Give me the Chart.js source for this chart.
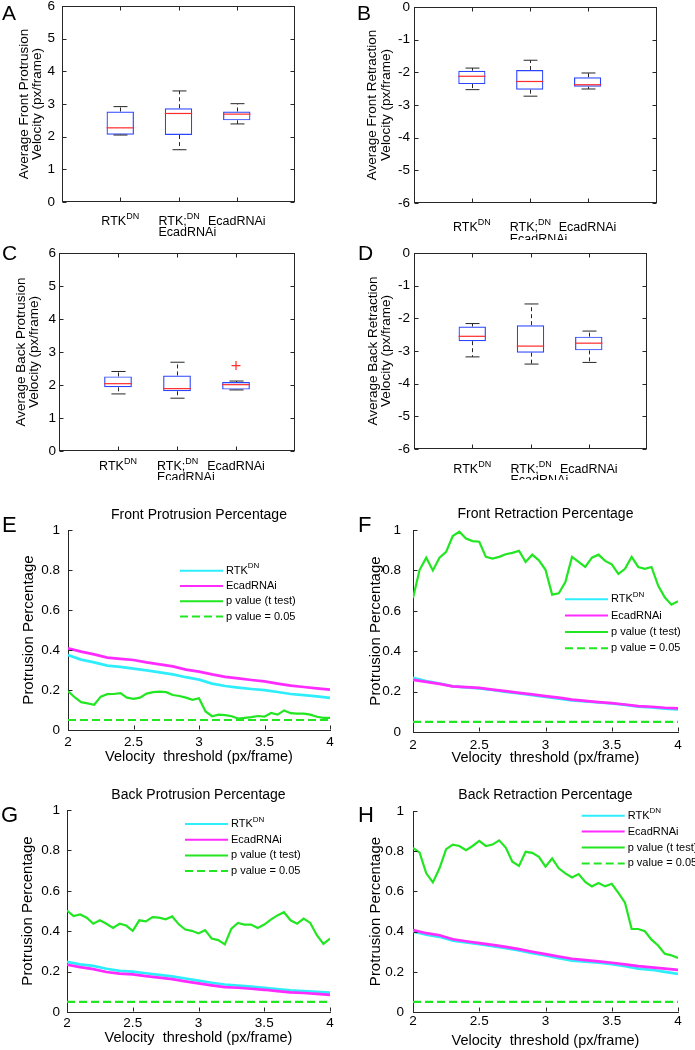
<!DOCTYPE html>
<html lang="en">
<head>
    <meta charset="UTF-8">
    <title>Protrusion and retraction velocity</title>
    <script src="https://cdn.jsdelivr.net/npm/chart.js"></script>
    <style>
        body { margin: 0; background: #fff; }
        .fig { position: relative; width: 695px; height: 1050px; overflow: hidden; }
        .fig canvas { position: absolute; }
    </style>
</head>
<body>
<div class="fig">
    <canvas id="cA" width="345" height="240" style="left:0px;top:0px"></canvas>
    <canvas id="cB" width="350" height="240" style="left:345px;top:0px"></canvas>
    <canvas id="cC" width="345" height="240" style="left:0px;top:240px"></canvas>
    <canvas id="cD" width="350" height="240" style="left:345px;top:240px"></canvas>
    <canvas id="cE" width="345" height="275" style="left:0px;top:500px"></canvas>
    <canvas id="cF" width="350" height="275" style="left:345px;top:500px"></canvas>
    <canvas id="cG" width="345" height="275" style="left:0px;top:775px"></canvas>
    <canvas id="cH" width="350" height="275" style="left:345px;top:775px"></canvas>
</div>
<script>
    // ---- box plots (A-D) ----
    const groupLabels = ["RTK^DN", "RTK;^DN\nEcadRNAi", "EcadRNAi"];
    const groupPos = [1, 2, 3];

    // A: average front protrusion velocity
    const aLow = [2.05, 1.60, 2.39];
    const aQ1 = [2.06, 2.05, 2.50];
    const aMed = [2.27, 2.71, 2.69];
    const aQ3 = [2.77, 2.87, 2.77];
    const aHigh = [2.92, 3.40, 3.01];

    // B: average front retraction velocity
    const bLow = [-2.53, -2.73, -2.51];
    const bQ1 = [-2.36, -2.53, -2.44];
    const bMed = [-2.12, -2.28, -2.38];
    const bQ3 = [-1.95, -1.93, -2.15];
    const bHigh = [-1.87, -1.63, -2.02];

    // C: average back protrusion velocity
    const cLow = [1.73, 1.60, 1.85];
    const cQ1 = [1.93, 1.81, 1.86];
    const cMed = [2.04, 1.89, 2.01];
    const cQ3 = [2.26, 2.29, 2.09];
    const cHigh = [2.41, 2.69, 2.12];
    const cOutX = [3];
    const cOutY = [2.59];

    // D: average back retraction velocity
    const dLow = [-3.18, -3.40, -3.35];
    const dQ1 = [-2.70, -3.05, -2.98];
    const dMed = [-2.55, -2.85, -2.76];
    const dQ3 = [-2.25, -2.21, -2.56];
    const dHigh = [-2.16, -1.56, -2.39];

    // ---- percentage curves (E-H) ----
    const thrCoarse = [2.0, 2.1, 2.2, 2.3, 2.4, 2.5, 2.6, 2.7, 2.8, 2.9, 3.0, 3.1, 3.2, 3.3, 3.4, 3.5, 3.6, 3.7, 3.8, 3.9, 4.0];
    const thrFine = [2.00, 2.05, 2.10, 2.15, 2.20, 2.25, 2.30, 2.35, 2.40, 2.45, 2.50, 2.55, 2.60, 2.65, 2.70, 2.75, 2.80, 2.85, 2.90, 2.95,
                     3.00, 3.05, 3.10, 3.15, 3.20, 3.25, 3.30, 3.35, 3.40, 3.45, 3.50, 3.55, 3.60, 3.65, 3.70, 3.75, 3.80, 3.85, 3.90, 3.95, 4.00];
    const pCutX = [2, 4];
    const pCutY = [0.05, 0.05];

    const eRtk = [0.375, 0.352, 0.338, 0.322, 0.316, 0.307, 0.298, 0.288, 0.278, 0.264, 0.252, 0.232, 0.220, 0.212, 0.205, 0.199, 0.190, 0.180, 0.174, 0.168, 0.161];
    const eEcad = [0.408, 0.392, 0.378, 0.362, 0.356, 0.350, 0.338, 0.328, 0.318, 0.302, 0.292, 0.278, 0.266, 0.258, 0.250, 0.243, 0.232, 0.222, 0.215, 0.208, 0.202];
    const eP = [0.195, 0.164, 0.139, 0.133, 0.126, 0.167, 0.179, 0.180, 0.184, 0.162, 0.156, 0.162, 0.182, 0.189, 0.192, 0.189, 0.175, 0.170, 0.162, 0.151,
                0.159, 0.093, 0.069, 0.077, 0.074, 0.069, 0.057, 0.061, 0.064, 0.070, 0.067, 0.085, 0.077, 0.098, 0.084, 0.082, 0.082, 0.077, 0.066, 0.061, 0.061];

    const fRtk = [0.268, 0.252, 0.240, 0.226, 0.221, 0.216, 0.208, 0.199, 0.191, 0.182, 0.174, 0.165, 0.157, 0.151, 0.146, 0.141, 0.134, 0.126, 0.122, 0.116, 0.112];
    const fEcad = [0.258, 0.248, 0.238, 0.226, 0.222, 0.218, 0.210, 0.202, 0.194, 0.186, 0.178, 0.170, 0.160, 0.154, 0.148, 0.143, 0.136, 0.128, 0.125, 0.120, 0.117];
    const fP = [0.663, 0.803, 0.863, 0.800, 0.863, 0.892, 0.970, 0.992, 0.958, 0.945, 0.942, 0.867, 0.858, 0.867, 0.880, 0.887, 0.897, 0.842, 0.878, 0.850,
                0.803, 0.680, 0.687, 0.742, 0.867, 0.842, 0.817, 0.863, 0.878, 0.847, 0.830, 0.783, 0.808, 0.867, 0.817, 0.808, 0.817, 0.725, 0.667, 0.630, 0.647];

    const gRtk = [0.248, 0.236, 0.228, 0.214, 0.204, 0.200, 0.192, 0.184, 0.176, 0.166, 0.155, 0.145, 0.136, 0.131, 0.126, 0.120, 0.114, 0.107, 0.104, 0.100, 0.096];
    const gEcad = [0.234, 0.222, 0.212, 0.198, 0.190, 0.186, 0.178, 0.170, 0.163, 0.152, 0.142, 0.132, 0.123, 0.120, 0.115, 0.110, 0.103, 0.097, 0.094, 0.090, 0.085];
    const gP = [0.502, 0.475, 0.483, 0.467, 0.437, 0.454, 0.437, 0.416, 0.437, 0.428, 0.402, 0.454, 0.449, 0.470, 0.467, 0.459, 0.473, 0.434, 0.408, 0.402,
                0.389, 0.405, 0.364, 0.356, 0.335, 0.413, 0.441, 0.433, 0.433, 0.416, 0.433, 0.457, 0.478, 0.494, 0.454, 0.437, 0.462, 0.441, 0.380, 0.337, 0.364];

    const hRtk = [0.400, 0.385, 0.374, 0.355, 0.346, 0.338, 0.328, 0.318, 0.306, 0.293, 0.281, 0.268, 0.256, 0.250, 0.245, 0.238, 0.228, 0.216, 0.210, 0.200, 0.190];
    const hEcad = [0.408, 0.392, 0.382, 0.362, 0.352, 0.343, 0.334, 0.324, 0.313, 0.300, 0.288, 0.276, 0.265, 0.258, 0.252, 0.245, 0.237, 0.228, 0.222, 0.216, 0.210];
    const hP = [0.816, 0.793, 0.690, 0.645, 0.715, 0.810, 0.833, 0.826, 0.805, 0.826, 0.851, 0.826, 0.833, 0.854, 0.818, 0.748, 0.727, 0.797, 0.792, 0.772,
                0.723, 0.764, 0.715, 0.690, 0.669, 0.686, 0.647, 0.625, 0.642, 0.625, 0.638, 0.593, 0.544, 0.413, 0.413, 0.402, 0.360, 0.331, 0.290, 0.282, 0.269];

    const FONT = '"Liberation Sans", Arial, Helvetica, sans-serif';
    const AXIS = "#262626";
    const BLUE = "#2b45ff";
    const RED = "#ff2a2a";
    const CYAN = "#2eeefc";
    const MAGENTA = "#ff2bff";
    const GREEN = "#22e622";
    const TICK = 13.5;

    Chart.defaults.font.family = FONT;
    Chart.defaults.color = "#000";

    // matlab style tick text: 2, 2.5, 3 ... and 0, 0.2 ... 1
    const plainTick = v => String(Number(v.toFixed(2)));

    // text with an optional ^superscript part
    function drawRich(ctx, text, x, y, size, supSize, align) {
        const parts = text.split("^");
        const base = parts[0], sup = parts[1] || "";
        ctx.font = size + "px " + FONT;
        const wb = ctx.measureText(base).width;
        ctx.font = supSize + "px " + FONT;
        const ws = sup ? ctx.measureText(sup).width : 0;
        const x0 = align === "center" ? x - (wb + ws) / 2 : x;
        ctx.textAlign = "left";
        ctx.textBaseline = "middle";
        ctx.font = size + "px " + FONT;
        ctx.fillText(base, x0, y);
        if (sup) {
            ctx.font = supSize + "px " + FONT;
            ctx.fillText(sup, x0 + wb, y - size * 0.42);
        }
    }

    // whiskers, caps and medians for the box plots
    const whiskers = {
        id: "whiskers",
        afterDatasetsDraw(chart) {
            const ds = chart.data.datasets[0];
            if (!ds.med) return;
            const ctx = chart.ctx, xs = chart.scales.x, ys = chart.scales.y;
            const capHalf = xs.getPixelForValue(0.12) - xs.getPixelForValue(0);
            ctx.save();
            chart.getDatasetMeta(0).data.forEach((bar, i) => {
                const x = Math.round(bar.x) + 0.5;
                const yLo = ys.getPixelForValue(ds.lo[i]), yHi = ys.getPixelForValue(ds.hi[i]);
                const yQ1 = ys.getPixelForValue(ds.data[i].y[0]), yQ3 = ys.getPixelForValue(ds.data[i].y[1]);
                const yMed = ys.getPixelForValue(ds.med[i]);
                ctx.strokeStyle = AXIS;
                ctx.lineWidth = 1;
                ctx.setLineDash([4, 3]);
                ctx.beginPath();
                ctx.moveTo(x, yQ3); ctx.lineTo(x, yHi);
                ctx.moveTo(x, yQ1); ctx.lineTo(x, yLo);
                ctx.stroke();
                ctx.setLineDash([]);
                ctx.beginPath();
                ctx.moveTo(x - capHalf, yHi); ctx.lineTo(x + capHalf, yHi);
                ctx.moveTo(x - capHalf, yLo); ctx.lineTo(x + capHalf, yLo);
                ctx.stroke();
                ctx.strokeStyle = RED;
                ctx.lineWidth = 1.2;
                ctx.beginPath();
                ctx.moveTo(bar.x - bar.width / 2, yMed); ctx.lineTo(bar.x + bar.width / 2, yMed);
                ctx.stroke();
            });
            ctx.restore();
        }
    };

    // frame, inward ticks, panel letter, category labels and in-plot legend
    const decor = {
        id: "decor",
        afterDraw(chart, args, o) {
            const ctx = chart.ctx, a = chart.chartArea;
            const xs = chart.scales.x, ys = chart.scales.y;
            const L = Math.round(a.left) + 0.5, R = Math.round(a.right) - 0.5;
            const T = Math.round(a.top) + 0.5, B = Math.round(a.bottom) - 0.5;
            ctx.save();
            ctx.strokeStyle = AXIS;
            ctx.lineWidth = 1;
            if (o.boxed) ctx.strokeRect(L, T, R - L, B - T);
            const tk = 4;
            ctx.beginPath();
            ys.ticks.forEach(t => {
                const y = Math.round(ys.getPixelForValue(t.value)) + 0.5;
                ctx.moveTo(L, y); ctx.lineTo(L + tk, y);
                if (o.boxed) { ctx.moveTo(R, y); ctx.lineTo(R - tk, y); }
            });
            const xv = o.boxed ? groupPos : xs.ticks.map(t => t.value);
            xv.forEach(v => {
                const x = Math.round(xs.getPixelForValue(v)) + 0.5;
                ctx.moveTo(x, B); ctx.lineTo(x, B - tk);
                if (o.boxed) { ctx.moveTo(x, T); ctx.lineTo(x, T + tk); }
            });
            ctx.stroke();

            ctx.fillStyle = "#000";
            ctx.font = o.letterSize + "px " + FONT;
            ctx.textAlign = "left";
            ctx.textBaseline = "alphabetic";
            ctx.fillText(o.letter, o.letterX, o.letterY);

            if (o.boxed) {
                groupLabels.forEach((lab, i) => {
                    const x = xs.getPixelForValue(groupPos[i]);
                    const lines = lab.split("\n");
                    if (lines.length === 1) {
                        drawRich(ctx, lines[0], x, a.bottom + o.catDy1, 12.5, 9, "center");
                    } else {
                        drawRich(ctx, lines[0], x - 20, a.bottom + o.catDy1, 12.5, 9, "left");
                        drawRich(ctx, lines[1], x - 20, a.bottom + o.catDy2, 12.5, 9, "left");
                    }
                });
            } else {
                chart.data.datasets.forEach((ds, i) => {
                    const y = o.legY + i * o.legRow;
                    ctx.strokeStyle = ds.borderColor;
                    ctx.lineWidth = 2;
                    ctx.setLineDash(ds.borderDash || []);
                    ctx.beginPath();
                    ctx.moveTo(o.legX, y); ctx.lineTo(o.legX + 43, y);
                    ctx.stroke();
                    ctx.setLineDash([]);
                    ctx.fillStyle = "#000";
                    drawRich(ctx, ds.label, o.legX + 46, y, 11, 8, "left");
                });
            }
            ctx.restore();
        }
    };

    function makeBox(id, s, yMin, yMax, yTitle, low, q1, med, q3, high, outX, outY) {
        const datasets = [{
            type: "bar",
            data: groupPos.map((x, i) => ({ x: x, y: [q1[i], q3[i]] })),
            lo: low, med: med, hi: high,
            borderColor: BLUE, borderWidth: 1.2, borderSkipped: false,
            backgroundColor: "rgba(0,0,0,0)",
            barPercentage: 0.47, categoryPercentage: 1
        }];
        if (outX) {
            datasets.push({
                type: "scatter",
                data: outX.map((x, i) => ({ x: x, y: outY[i] })),
                pointStyle: "cross", pointRadius: 4.5, borderColor: RED, borderWidth: 1.2
            });
        }
        new Chart(document.getElementById(id), {
            type: "bar",
            data: { datasets: datasets },
            options: {
                responsive: false, animation: false, events: [],
                layout: { padding: { left: 0, top: s.area.t, right: s.w - s.area.r, bottom: 0 } },
                scales: {
                    x: {
                        type: "linear", min: 0, max: s.xMax, offset: false,
                        ticks: { display: false },
                        grid: { drawOnChartArea: false, drawTicks: false, offset: false },
                        border: { display: false },
                        afterFit: sc => { sc.height = s.h - s.area.b; sc.paddingLeft = 0; sc.paddingRight = 0; }
                    },
                    y: {
                        min: yMin, max: yMax,
                        ticks: { stepSize: 1, padding: s.yTickGap, font: { size: 13.5 }, color: "#000" },
                        grid: { drawOnChartArea: false, drawTicks: false },
                        border: { display: false },
                        title: {
                            display: true, text: yTitle, color: "#000",
                            font: { size: 13.5, lineHeight: 1.0 },
                            padding: { top: s.yTitleX - 13.5 / 2, bottom: 0 }
                        },
                        afterFit: sc => { sc.width = s.area.l; sc.paddingTop = 0; sc.paddingBottom = 0; }
                    }
                },
                plugins: {
                    legend: { display: false },
                    tooltip: { enabled: false },
                    decor: {
                        boxed: true, letter: s.letter, letterX: s.letterX, letterY: s.letterY, letterSize: 21,
                        catDy1: s.catDy1, catDy2: s.catDy2
                    }
                }
            },
            plugins: [whiskers, decor]
        });
    }

    function makeLine(id, s, title, rtk, ecad, pv) {
        const titleLh = 14 * 1.2;
        const padTop = s.titleY - titleLh / 2;
        new Chart(document.getElementById(id), {
            type: "line",
            data: {
                datasets: [
                    { label: "RTK^DN", data: thrCoarse.map((x, i) => ({ x: x, y: rtk[i] })), borderColor: CYAN, borderWidth: 2.7, order: 4 },
                    { label: "EcadRNAi", data: thrCoarse.map((x, i) => ({ x: x, y: ecad[i] })), borderColor: MAGENTA, borderWidth: 2.7, order: 3 },
                    { label: "p value (t test)", data: thrFine.map((x, i) => ({ x: x, y: pv[i] })), borderColor: GREEN, borderWidth: 2.2, order: 2 },
                    { label: "p value = 0.05", data: pCutX.map((x, i) => ({ x: x, y: pCutY[i] })), borderColor: GREEN, borderWidth: 2.2, borderDash: [8, 4], order: 1 }
                ]
            },
            options: {
                responsive: false, animation: false, events: [],
                layout: { padding: { left: 0, top: padTop, right: s.w - s.area.r, bottom: 0 } },
                elements: { point: { radius: 0 }, line: { tension: 0, fill: false } },
                scales: {
                    x: {
                        type: "linear", min: 2, max: 4,
                        ticks: { stepSize: 0.5, callback: plainTick, padding: s.xTickY - s.area.b - TICK * 1.2 / 2, font: { size: TICK }, color: "#000", maxRotation: 0, autoSkip: false },
                        grid: { drawOnChartArea: false, drawTicks: false },
                        border: { color: AXIS, width: 1 },
                        title: {
                            display: true, text: "Velocity  threshold (px/frame)", color: "#000",
                            font: { size: 14.5 },
                            padding: { top: 0, bottom: Math.max(0, s.h - s.xTitleY - 14.5 * 1.2 / 2) }
                        },
                        afterFit: sc => { sc.height = s.h - s.area.b; sc.paddingLeft = 0; sc.paddingRight = 0; }
                    },
                    y: {
                        min: 0, max: 1,
                        ticks: { stepSize: 0.2, callback: plainTick, padding: s.yTickGap, font: { size: TICK }, color: "#000" },
                        grid: { drawOnChartArea: false, drawTicks: false },
                        border: { color: AXIS, width: 1 },
                        title: {
                            display: true, text: "Protrusion Percentage", color: "#000",
                            font: { size: 15 },
                            padding: { top: s.yTitleX - 9, bottom: 0 }
                        },
                        afterFit: sc => { sc.width = s.area.l; sc.paddingTop = 0; sc.paddingBottom = 0; }
                    }
                },
                plugins: {
                    legend: { display: false },
                    tooltip: { enabled: false },
                    title: {
                        display: true, text: title, color: "#000", fullSize: false,
                        font: { size: 14, weight: "normal" },
                        padding: { top: 0, bottom: s.area.t - padTop - titleLh }
                    },
                    decor: {
                        boxed: false, letter: s.letter, letterX: s.letterX, letterY: s.letterY, letterSize: 22,
                        legX: s.legX, legY: s.legY, legRow: s.legRow
                    }
                }
            },
            plugins: [decor]
        });
    }

    makeBox("cA", { w: 345, h: 240, area: { l: 62, t: 6, r: 295, b: 202 }, xMax: 4, yTickGap: 7, yTitleX: 24, catDy1: 20, catDy2: 31, letter: "A", letterX: 2, letterY: 20 },
        0, 6, ["Average Front Protrusion", "Velocity (px/frame)"], aLow, aQ1, aMed, aQ3, aHigh);
    makeBox("cB", { w: 350, h: 240, area: { l: 69, t: 7, r: 312, b: 203 }, xMax: 4.2, yTickGap: 4, yTitleX: 27.5, catDy1: 24.5, catDy2: 36.5, letter: "B", letterX: 12, letterY: 20 },
        -6, 0, ["Average Front Retraction", "Velocity (px/frame)"], bLow, bQ1, bMed, bQ3, bHigh);
    makeBox("cC", { w: 345, h: 240, area: { l: 59, t: 13, r: 295, b: 211 }, xMax: 4, yTickGap: 3, yTitleX: 21, catDy1: 16, catDy2: 27, letter: "C", letterX: 2, letterY: 20 },
        0, 6, ["Average Back Protrusion", "Velocity (px/frame)"], cLow, cQ1, cMed, cQ3, cHigh, cOutX, cOutY);
    makeBox("cD", { w: 350, h: 240, area: { l: 69, t: 13, r: 302, b: 209 }, xMax: 4, yTickGap: 4, yTitleX: 28, catDy1: 20.7, catDy2: 31.5, letter: "D", letterX: 13, letterY: 20 },
        -6, 0, ["Average Back Retraction", "Velocity (px/frame)"], dLow, dQ1, dMed, dQ3, dHigh);

    makeLine("cE", { w: 345, h: 275, area: { l: 68, t: 30, r: 330, b: 230 }, titleY: 15, yTickGap: 8, yTitleX: 28.5, xTickY: 242.3, xTitleY: 256.7,
        letter: "E", letterX: 2, letterY: 32, legX: 180, legY: 70.7, legRow: 15.3 }, "Front Protrusion Percentage", eRtk, eEcad, eP);
    makeLine("cF", { w: 350, h: 275, area: { l: 68, t: 30, r: 333, b: 232 }, titleY: 14, yTickGap: 12, yTitleX: 30.5, xTickY: 245, xTitleY: 258.3,
        letter: "F", letterX: 13, letterY: 32, legX: 220, legY: 99.3, legRow: 16.3 }, "Front Retraction Percentage", fRtk, fEcad, fP);
    makeLine("cG", { w: 345, h: 275, area: { l: 67, t: 35, r: 330, b: 237 }, titleY: 20, yTickGap: 7, yTitleX: 28.3, xTickY: 248.3, xTitleY: 263.3,
        letter: "G", letterX: 1, letterY: 47, legX: 185, legY: 49, legRow: 15.7 }, "Back Protrusion Percentage", gRtk, gEcad, gP);
    makeLine("cH", { w: 350, h: 275, area: { l: 68, t: 36, r: 333, b: 237 }, titleY: 20, yTickGap: 9, yTitleX: 30.5, xTickY: 246.7, xTitleY: 266.7,
        letter: "H", letterX: 13, letterY: 47, legX: 236.7, legY: 40.7, legRow: 15.9 }, "Back Retraction Percentage", hRtk, hEcad, hP);
</script>
</body>
</html>
